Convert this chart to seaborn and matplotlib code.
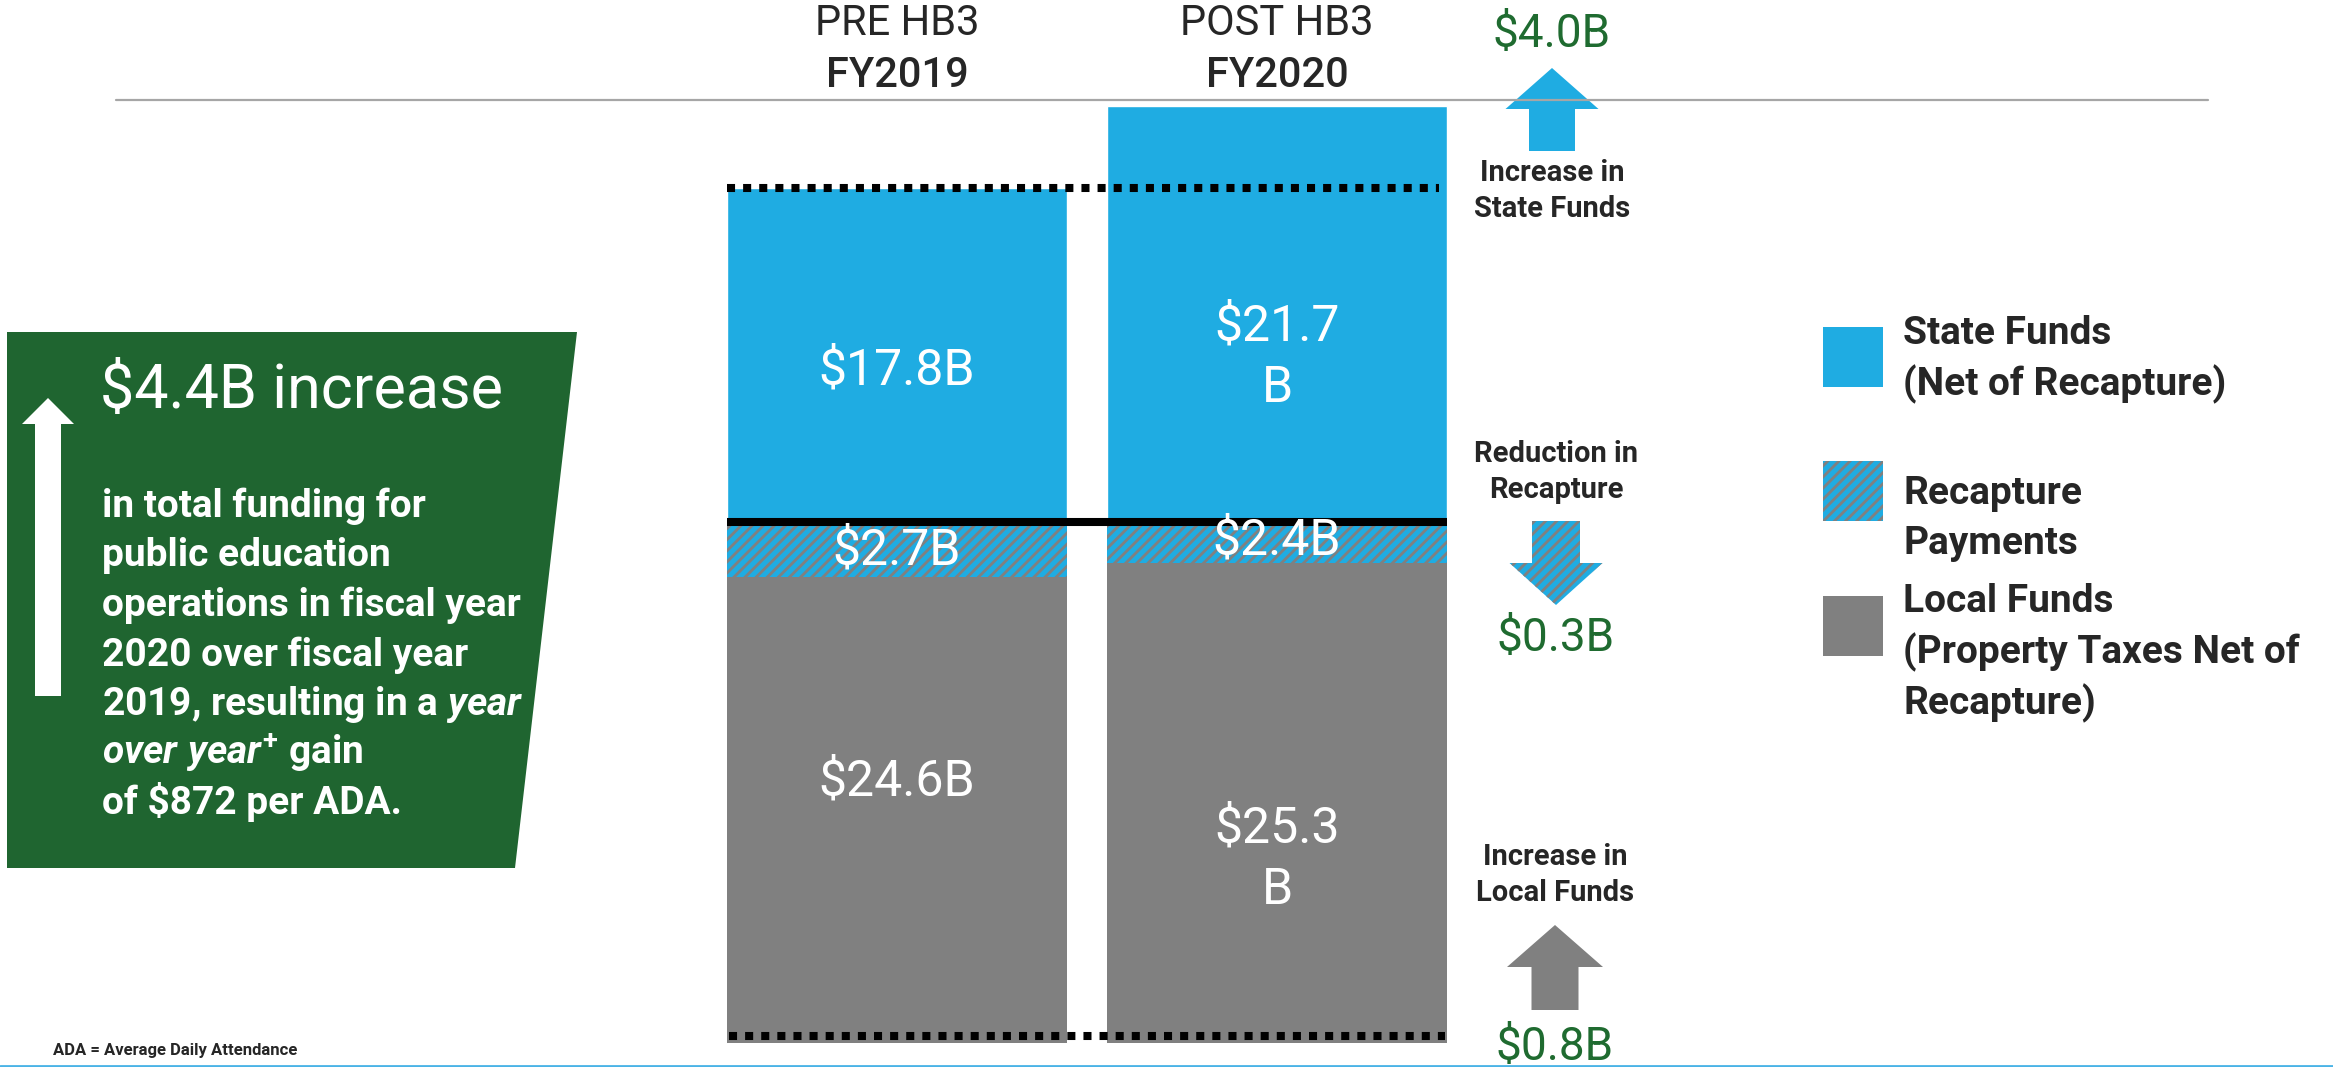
"""HB3 funding comparison: stacked bars FY2019 vs FY2020."""
import numpy as np
import pandas as pd
import matplotlib
matplotlib.use("Agg")
import matplotlib.pyplot as plt
from matplotlib.patches import Polygon, Rectangle, FancyArrow
import seaborn as sns

# ---- data -------------------------------------------------------------
eras = ["PRE HB3", "POST HB3"]
years = ["FY2019", "FY2020"]
state = [17.8, 21.7]        # state funds, net of recapture ($B)
recapture = [2.7, 2.4]      # recapture payments ($B)
local = [24.6, 25.3]        # local funds, net of recapture ($B)
state_labels = ["$17.8B", "$21.7\nB"]
recap_labels = ["$2.7B", "$2.4B"]
local_labels = ["$24.6B", "$25.3\nB"]
change_values = ["$4.0B", "$0.3B", "$0.8B"]
change_notes = ["Increase in\nState Funds", "Reduction in\nRecapture", "Increase in\nLocal Funds"]
legend_labels = ["State Funds\n(Net of Recapture)", "Recapture\nPayments",
                 "Local Funds\n(Property Taxes Net of\nRecapture)"]
headline = "$4.4B increase"
body_lines = ["in total funding for", "public education", "operations in fiscal year",
              "2020 over fiscal year", r"2019, resulting in a $\mathit{year}$",
              r"$\mathit{over\ year}^{+}$ gain", "of $872 per ADA."]
footnote = "ADA = Average Daily Attendance"

# ---- style ------------------------------------------------------------
BLUE = "#1FACE2"
GRAY = "#808080"
GREEN_BOX = "#1F6530"
GREEN_TXT = "#1F6B30"
sns.set_style("white")
plt.rcParams["font.family"] = ["Roboto", "DejaVu Sans"]
plt.rcParams.update({"hatch.linewidth": 2.0, "mathtext.fontset": "custom",
                     "mathtext.rm": "Roboto:bold", "mathtext.it": "Roboto:italic:bold",
                     "mathtext.bf": "Roboto:bold"})

W, H = 2333, 1067
PX_PER_B = 18.96   # pixels per $1B
BASE_PX = 1043     # pixel row of the bar baseline
BAR_W = 0.895


def px2v(p):
    return (BASE_PX - p) / PX_PER_B


df = pd.DataFrame({"year": years, "state": state, "recapture": recapture, "local": local})
df["with_recap"] = df["local"] + df["recapture"]
df["total"] = df["with_recap"] + df["state"]

fig = plt.figure(figsize=(W / 100, H / 100), dpi=100, facecolor="white")
ax = fig.add_axes([707 / W, 0, 760 / W, 1])
common = dict(data=df, x="year", saturation=1, width=BAR_W, errorbar=None, ax=ax)
sns.barplot(y="total", color=BLUE, **common)
sns.barplot(y="with_recap", color=BLUE, hatch="///", edgecolor=GRAY, linewidth=0, **common)
sns.barplot(y="local", color=GRAY, linewidth=0, **common)
ax.set_xlim(-0.5, 1.5)
ax.set_ylim(px2v(H), px2v(0))
ax.axis("off")

x0, x1 = -BAR_W / 2, len(df) - 1 + BAR_W / 2
dots = (0, (1, 1))
ax.hlines(df["total"].iloc[0], x0, x1 - 0.02, colors="black", lw=5.8, linestyles=dots)
ax.hlines(0.35, x0 + 0.005, x1 - 0.005, colors="black", lw=5.8, linestyles=dots)
ax.hlines(df["with_recap"].mean(), x0, x1, colors="black", lw=5.8)


def stack(axis, x, yc, text, step, to_y=lambda p: p, **kw):
    lines = text.split("\n")
    n = len(lines)
    for k, line in enumerate(lines):
        axis.text(x, to_y(yc + (k - (n - 1) / 2) * step), line, ha="center", va="center", **kw)


# segment labels (nudge in px, + = down)
lab = dict(color="white", fontsize=36)
state_nudge = [14, 45]
local_nudge = [-28, 56]
for i in range(len(df)):
    r = df.iloc[i]
    c = BASE_PX - (r["with_recap"] + r["state"] / 2) * PX_PER_B + state_nudge[i]
    stack(ax, i, c, state_labels[i], 62, px2v, **lab)
    c = BASE_PX - (r["local"] + r["recapture"] / 2) * PX_PER_B
    stack(ax, i, c, recap_labels[i], 62, px2v, **lab)
    c = BASE_PX - (r["local"] / 2) * PX_PER_B + local_nudge[i]
    stack(ax, i, c, local_labels[i], 62, px2v, **lab)
    ax.text(i, px2v(23), eras[i], ha="center", va="center", fontsize=30)
    ax.text(i, px2v(75), years[i], ha="center", va="center", fontsize=30, fontweight="medium")

# ---- overlay in pixel coordinates -----------------------------------
ov = fig.add_axes([0, 0, 1, 1])
ov.set_xlim(0, W)
ov.set_ylim(H, 0)
ov.axis("off")

ov.plot([116, 2208], [100, 100], color="#A6A6A6", lw=1.6)
ov.plot([0, W], [1065.5, 1065.5], color="#4AB3E6", lw=2)
ov.text(53, 1058, footnote, fontsize=12, fontweight="bold", va="bottom", ha="left")

# green call-out box; body text is clipped to its slanted edge
box = Polygon([(7, 332), (577, 332), (515, 868), (7, 868)], closed=True,
              facecolor=GREEN_BOX, edgecolor="none")
ov.add_patch(box)
ov.add_patch(FancyArrow(48, 696, 0, -298, width=26, head_width=52, head_length=26,
                        length_includes_head=True, color="white", lw=0))
ov.text(100, 391, headline, color="white", fontsize=44, va="center")
for k, line in enumerate(body_lines):
    t = ov.text(102, 517 + k * 49.5, line, color="white", fontsize=28, fontweight="bold",
                va="baseline", ha="left")
    t.set_clip_path(box)


def arrow(x, tail, tip, w, hw, hl, **kw):
    ov.add_patch(FancyArrow(x, tail, 0, tip - tail, width=w, head_width=hw, head_length=hl,
                            length_includes_head=True, lw=0, **kw))


arrow(1552, 151, 68, 46, 93, 41, color=BLUE)
arrow(1556, 521, 605, 48, 93, 42, facecolor=BLUE, edgecolor=GRAY, hatch="///")
arrow(1555, 1010, 925, 47, 96, 42, color=GRAY)

change_y = [34, 638, 1047]
note_y = [191, 472, 875]
note_x = [1552, 1556, 1555]
for k in range(3):
    ov.text(note_x[k], change_y[k], change_values[k], color=GREEN_TXT, fontsize=33,
            ha="center", va="center")
    stack(ov, note_x[k], note_y[k], change_notes[k], 36, fontsize=21, fontweight="bold")

# legend
sq_top = [327, 461, 596]
txt_top = [333, 493, 601]
fills = [dict(facecolor=BLUE), dict(facecolor=BLUE, edgecolor=GRAY, hatch="///"),
         dict(facecolor=GRAY)]
for k in range(3):
    ov.add_patch(Rectangle((1823, sq_top[k]), 60, 60, lw=0, **fills[k]))
    for j, line in enumerate(legend_labels[k].split("\n")):
        ov.text(1903, txt_top[k] + j * 51, line, fontsize=28, fontweight="bold",
                ha="left", va="center")

fig.savefig("out.png", dpi=100, facecolor="white")
